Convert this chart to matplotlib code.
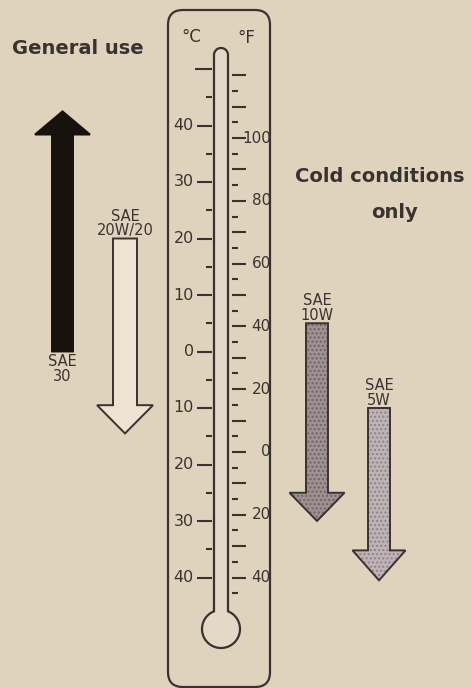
"""
SAE oil grade vs. temperature chart, drawn as a thermometer with grade arrows.
"""

import matplotlib
matplotlib.use("Agg")
import matplotlib.pyplot as plt
import numpy as np
from matplotlib.patches import FancyBboxPatch, Polygon

# --------------------------------------------------------------------------
# Data
# --------------------------------------------------------------------------

celsius_labels = [40, 30, 20, 10, 0, -10, -20, -30, -40]
celsius_minor = [45, 35, 25, 15, 5, -5, -15, -25, -35]
celsius_top_tick = [50]

fahrenheit_labels = [100, 80, 60, 40, 20, 0, -20, -40]
fahrenheit_long = [120, 110, 100, 90, 80, 70, 60, 50, 40, 30, 20, 10, 0,
                   -10, -20, -30, -40]
fahrenheit_short = [115, 105, 95, 85, 75, 65, 55, 45, 35, 25, 15, 5, -5,
                    -15, -25, -35, -45]

grades = ["SAE\n30", "SAE\n20W/20", "SAE\n10W", "SAE\n5W"]
grade_start_c = [0, 20, 5, -10]          # where each arrow's shaft starts
grade_tip_c = [42.5, -14.5, -30, -40.5]  # where each arrow points to

# --------------------------------------------------------------------------
# Styles / layout
# --------------------------------------------------------------------------

BG = "#e0d3be"
INK = "#3a3230"
PX_PER_C = 5.65
ZERO_PX = 351.5
W, H = 471, 688

arrow_x = [62.5, 125, 317, 379]
shaft_half = [10.5, 12, 11, 11]
head_half = [27.5, 28, 27.5, 26.5]
head_len_c = [4.1, 5.0, 5.0, 5.3]
arrow_face = ["#18120f", "#ece3d2", "#9d9291", "#bfb3b6"]
arrow_stipple = [None, None, "#6f6464", "#8e8488"]


def f_to_c(f):
    return (np.asarray(f, dtype=float) - 32) * 5 / 9


fig = plt.figure(figsize=(W / 100, H / 100), dpi=100)
fig.patch.set_facecolor(BG)

# decoration layer in pixel units (frame, tube, titles)
deco = fig.add_axes([0, 0, 1, 1])
deco.set_xlim(0, W)
deco.set_ylim(H, 0)
deco.axis("off")

frame = FancyBboxPatch((168, 10), 102, 677,
                       boxstyle="round,pad=0,rounding_size=15",
                       facecolor=BG, edgecolor=INK, lw=1.6)
deco.add_patch(frame)

# tube + bulb outline (screen y grows downward)
cx, half, top_y = 221, 7.0, 55
bulb_y, bulb_r = 629, 19.0
dy = np.sqrt(bulb_r ** 2 - half ** 2)
top_t = np.linspace(np.pi, 2 * np.pi, 30)
top_pts = np.column_stack([cx + half * np.cos(top_t), top_y + half * np.sin(top_t)])
th_r = np.arctan2(-dy, half)
th_l = np.arctan2(-dy, -half) + 2 * np.pi
bulb_t = np.linspace(th_r, th_l, 90)
bulb_pts = np.column_stack([cx + bulb_r * np.cos(bulb_t), bulb_y + bulb_r * np.sin(bulb_t)])
pts = np.vstack([[[cx - half, bulb_y - dy]], top_pts,
                 [[cx + half, bulb_y - dy]], bulb_pts])
tube = Polygon(pts, closed=True, facecolor="#e4d9c7", edgecolor=INK, lw=1.6)
deco.add_patch(tube)

deco.text(191, 37, "°C", ha="center", va="center", fontsize=12, color=INK)
deco.text(246, 38, "°F", ha="center", va="center", fontsize=12, color=INK)
deco.text(12, 48, "General use", ha="left", va="center", fontsize=14,
          fontweight="bold", color=INK)
deco.text(380, 176, "Cold conditions", ha="center", va="center", fontsize=14,
          fontweight="bold", color=INK)
deco.text(394, 212, "only", ha="center", va="center", fontsize=14,
          fontweight="bold", color=INK)

# data layer: x in pixels, y in degrees Celsius
ax = fig.add_axes([0, 0, 1, 1])
ax.set_xlim(0, W)
ax.set_ylim((ZERO_PX - H) / PX_PER_C, ZERO_PX / PX_PER_C)
ax.axis("off")
ax.patch.set_alpha(0)

# Celsius scale
ax.hlines(celsius_labels, 197, 212, color=INK, lw=1.5)
ax.hlines(celsius_top_tick, 195, 212, color=INK, lw=1.5)
ax.hlines(celsius_minor, 206, 211.5, color=INK, lw=1.5)
for c in celsius_labels:
    ax.text(194, c, f"{abs(c)}", ha="right", va="center", fontsize=11.5, color=INK)

# Fahrenheit scale
ax.hlines(f_to_c(fahrenheit_long), 232, 246, color=INK, lw=1.5)
ax.hlines(f_to_c(fahrenheit_short), 232, 237.5, color=INK, lw=1.5)
for f in fahrenheit_labels:
    ax.text(271, f_to_c(f), f"{abs(f)}", ha="right", va="center", fontsize=11,
            color=INK)

# grade arrows
for i, label in enumerate(grades):
    x0, s, h = arrow_x[i], shaft_half[i], head_half[i]
    start, tip = grade_start_c[i], grade_tip_c[i]
    sign = 1 if tip > start else -1
    base = tip - sign * head_len_c[i]
    verts = [(x0 - s, start), (x0 - s, base), (x0 - h, base), (x0, tip),
             (x0 + h, base), (x0 + s, base), (x0 + s, start)]
    ax.add_patch(Polygon(verts, closed=True, facecolor=arrow_face[i],
                         edgecolor="none"))
    if arrow_stipple[i]:
        ax.add_patch(Polygon(verts, closed=True, facecolor="none",
                             edgecolor=arrow_stipple[i], lw=0, hatch="...."))
    ax.add_patch(Polygon(verts, closed=True, facecolor="none",
                         edgecolor=INK if i else arrow_face[i], lw=1.4,
                         joinstyle="miter"))
    if sign > 0:
        ax.text(x0, start - 0.5, label, ha="center", va="top", fontsize=10.5,
                color=INK, linespacing=0.95)
    else:
        ax.text(x0, start + 0.6, label, ha="center", va="baseline", fontsize=10.5,
                color=INK, linespacing=0.95)

fig.savefig("out.png", dpi=100, facecolor=BG)
